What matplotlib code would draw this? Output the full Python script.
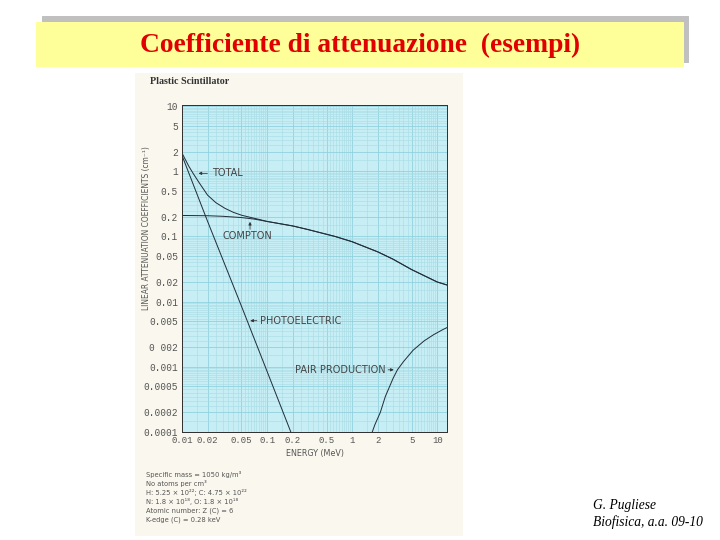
import numpy as np
import matplotlib
matplotlib.use("Agg")
from matplotlib import pyplot as plt
from matplotlib.patches import Rectangle
from matplotlib.ticker import FixedLocator, LogLocator, NullFormatter

# values (energy in MeV, coefficients in cm^-1)
total_e = [0.01, 0.012, 0.0135, 0.016, 0.02, 0.025, 0.032, 0.04, 0.05, 0.065,
           0.08, 0.1, 0.2, 0.3, 0.5, 0.63, 1, 2, 3, 5, 10, 13]
total_mu = [1.9, 1.2, 0.93, 0.66, 0.43, 0.33, 0.27, 0.235, 0.212, 0.195,
            0.183, 0.17, 0.145, 0.128, 0.108, 0.1, 0.083, 0.058, 0.045, 0.031, 0.02, 0.018]

compton_e = [0.01, 0.02, 0.03, 0.05, 0.07, 0.1, 0.2, 0.3, 0.5, 0.63, 1, 2, 3, 5, 10, 13]
compton_mu = [0.21, 0.208, 0.204, 0.195, 0.185, 0.17, 0.145, 0.128, 0.108, 0.1,
              0.083, 0.058, 0.045, 0.031, 0.02, 0.018]

photo_e = [0.01, 0.02, 0.05, 0.1, 0.19]
photo_mu = [1.75, 0.17, 0.0085, 0.00085, 0.0001]

pair_e = [1.72, 1.85, 2.14, 2.45, 3.03, 3.4, 4.0, 5.2, 7.0, 9.0, 11.5, 13]
pair_mu = [0.0001, 0.00013, 0.0002, 0.00035, 0.00067, 0.0009, 0.0012,
           0.0018, 0.0025, 0.0031, 0.0037, 0.0040]

x_ticks = [0.01, 0.02, 0.05, 0.1, 0.2, 0.5, 1, 2, 5, 10]
x_labels = ["0.01", "0.02", "0.05", "0.1", "0.2", "0.5", "1", "2", "5", "10"]
y_ticks = [10, 5, 2, 1, 0.5, 0.2, 0.1, 0.05, 0.02, 0.01, 0.005, 0.002,
           0.001, 0.0005, 0.0002, 0.0001]
y_labels = ["10", "5", "2", "1", "0.5", "0.2", "0.1", "0.05", "0.02", "0.01",
            "0.005", "0 002", "0.001", "0.0005", "0.0002", "0.0001"]

W, H = 720, 540
fig = plt.figure(figsize=(10, 7.5), dpi=72)
fig.patch.set_facecolor("white")

def px(x0, y0, w, h):
    # pixel box (top-left origin) -> figure fraction
    return [x0 / W, 1 - (y0 + h) / H, w / W, h / H]

# title banner: grey shadow + yellow box
fig.patches.append(Rectangle((42 / W, 1 - 62 / H), 646 / W, 46 / H,
                             transform=fig.transFigure, color="#c0c0c0", zorder=0))
fig.patches.append(Rectangle((36 / W, 1 - 66 / H), 647 / W, 44 / H,
                             transform=fig.transFigure, color="#ffff99", zorder=1))
fig.text(360 / W, 1 - 45 / H, "Coefficiente di attenuazione  (esempi)",
         family="Liberation Serif", weight="bold", fontsize=27.5, color="#e00000",
         ha="center", va="center", zorder=2)

# scanned page
fig.patches.append(Rectangle((135 / W, 1 - 535 / H), 327 / W, 462 / H,
                             transform=fig.transFigure, color="#faf7ee", zorder=0))

ax = fig.add_axes(px(182, 105, 265, 327))
ax.set_zorder(5)
ax.set_facecolor("#c8eef5")
ax.set_xscale("log")
ax.set_yscale("log")
ax.set_xlim(0.01, 13)
ax.set_ylim(1e-4, 10.4)

lc = "#22303a"
ax.plot(total_e, total_mu, color=lc, lw=1.0)
ax.plot(compton_e, compton_mu, color=lc, lw=1.0)
ax.plot(photo_e, photo_mu, color=lc, lw=1.0)
ax.plot(pair_e, pair_mu, color=lc, lw=1.0)

# graph paper grid
sub = np.arange(1, 10, 0.5)
ax.xaxis.set_minor_locator(LogLocator(base=10, subs=sub, numticks=50))
ax.yaxis.set_minor_locator(LogLocator(base=10, subs=sub, numticks=50))
ax.xaxis.set_minor_formatter(NullFormatter())
ax.yaxis.set_minor_formatter(NullFormatter())
ax.xaxis.set_major_locator(FixedLocator(x_ticks))
ax.yaxis.set_major_locator(FixedLocator(y_ticks))
ax.set_xticklabels(x_labels)
ax.set_yticklabels(y_labels)
ax.grid(which="minor", color="#a8dde7", lw=0.6)
ax.grid(which="major", color="#8fd0dc", lw=0.8)
ax.tick_params(which="both", length=0, colors="#555555", pad=4)
ax.tick_params(axis="x", labelsize=9)
ax.tick_params(axis="y", labelsize=9.5)
for lab in ax.get_xticklabels() + ax.get_yticklabels():
    lab.set_family("Liberation Mono")
for s in ax.spines.values():
    s.set_color("#333333")
    s.set_linewidth(1.0)

ax.set_xlabel("ENERGY (MeV)", fontsize=8, color="#555555", labelpad=4)
fig.text(147 / W, 1 - 228 / H, "LINEAR ATTENUATION COEFFICIENTS (cm⁻¹)",
         fontsize=7.5, color="#555555", rotation=90, ha="center", va="center")

ta = dict(fontsize=9.8, color="#444444", va="center")
arr = dict(arrowstyle="-|>", color="#333333", lw=0.8, mutation_scale=6)
ax.text(0.0225, 0.93, "TOTAL", **ta)
ax.annotate("", xy=(0.0148, 0.93), xytext=(0.021, 0.93), arrowprops=arr)
ax.text(0.0296, 0.1, "COMPTON", **ta)
ax.annotate("", xy=(0.063, 0.18), xytext=(0.063, 0.12), arrowprops=arr)
ax.text(0.083, 0.0051, "PHOTOELECTRIC", **ta)
ax.annotate("", xy=(0.06, 0.0051), xytext=(0.08, 0.0051), arrowprops=arr)
ax.text(2.44, 0.0009, "PAIR PRODUCTION", ha="right", **ta)
ax.annotate("", xy=(3.25, 0.0009), xytext=(2.5, 0.0009), arrowprops=arr)

fig.text(150 / W, 1 - 82 / H, "Plastic Scintillator", family="Liberation Serif",
         weight="bold", fontsize=10, color="#333333", va="center")

notes = ["Specific mass = 1050 kg/m³",
         "No atoms per cm³",
         "H: 5.25 × 10²²; C: 4.75 × 10²²",
         "N: 1.8 × 10¹⁸, O: 1.8 × 10¹⁸",
         "Atomic number: Z (C) = 6",
         "K-edge (C) = 0.28 keV"]
for i, t in enumerate(notes):
    fig.text(146 / W, 1 - (474 + i * 9.2) / H, t, fontsize=6.8,
             color="#555555", va="center")

fig.text(593 / W, 1 - 505 / H, "G. Pugliese", family="Liberation Serif",
         style="italic", fontsize=13.5, va="center")
fig.text(593 / W, 1 - 522 / H, "Biofisica, a.a. 09-10", family="Liberation Serif",
         style="italic", fontsize=13.5, va="center")

fig.savefig("out.png", dpi=72)
